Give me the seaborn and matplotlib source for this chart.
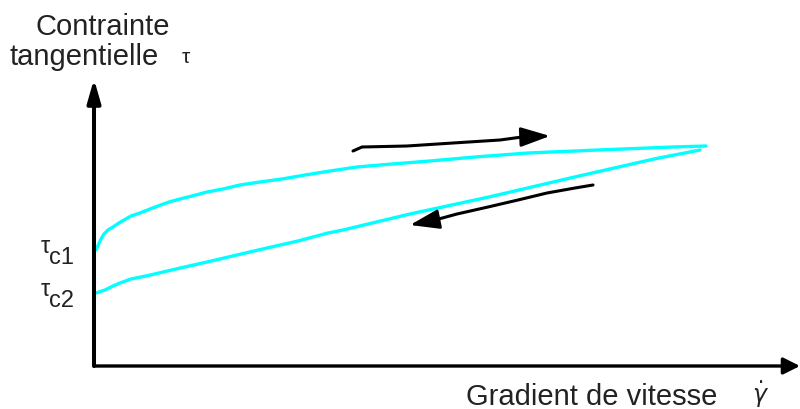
import matplotlib
matplotlib.use("Agg")
import matplotlib.pyplot as plt
import seaborn as sns

# Values (arbitrary units: shear rate / shear stress)
shear_upper = [2, 7, 10, 14, 19, 25, 30, 37, 46, 56, 64, 75, 86, 98, 113, 129, 146,
               166, 188, 211, 236, 263, 298, 336, 381, 434, 504, 579, 612]
stress_upper = [116, 127, 132, 136, 139, 143, 146, 150, 153, 157, 160, 164, 167, 170,
                174, 177, 181, 184, 187, 191, 195, 199, 202, 205, 209, 213, 216, 219, 220]

shear_lower = [2, 11, 19, 26, 37, 52, 82, 113, 143, 173, 204, 234, 249, 316, 395, 485, 560, 606]
stress_lower = [73, 76, 80, 83, 87, 90, 97, 104, 111, 118, 125, 133, 136, 152, 169, 190, 207, 216]

# loading / unloading direction arrows (last point = arrow tip)
load_x = [259, 268, 313, 359, 406, 428, 456]
load_y = [215, 219, 220, 223, 226, 229, 230]
unload_x = [499, 481, 453, 424, 394, 363, 341, 316]
unload_y = [181, 178, 173, 166, 159, 152, 146, 141]

tau_c1 = stress_upper[0]
tau_c2 = stress_lower[0]
tick_labels = ["c1", "c2"]

x_max = 706
y_max = 287

sns.set_theme(style="white")
plt.rcParams['font.family'] = ['Liberation Sans', 'DejaVu Sans']
txt_color = "#222222"


def head(ax, x0, y0, x1, y1, lw, scale, hl, hw, coords="data"):
    ax.annotate("", xy=(x1, y1), xytext=(x0, y0), xycoords=coords, textcoords=coords,
                annotation_clip=False,
                arrowprops=dict(arrowstyle=f"-|>,head_length={hl},head_width={hw}",
                                color="black", lw=lw, mutation_scale=scale,
                                shrinkA=0, shrinkB=0))


fig = plt.figure(figsize=(8, 4.1), dpi=100)
ax = fig.add_axes([94 / 800, 43 / 410, 706 / 800, 287 / 410])
ax.set_xlim(0, x_max)
ax.set_ylim(0, y_max)
sns.despine(ax=ax, left=True, bottom=True)
ax.set_xticks([])
ax.set_yticks([])

# flow curves
sns.lineplot(x=shear_upper, y=stress_upper, color="#00FFFF", lw=2.4, ax=ax,
             sort=False, estimator=None)
sns.lineplot(x=shear_lower, y=stress_lower, color="#00FFFF", lw=2.4, ax=ax,
             sort=False, estimator=None)

# direction arrows
sns.lineplot(x=load_x[:-1], y=load_y[:-1], color="black", lw=2.2, ax=ax,
             sort=False, estimator=None)
head(ax, load_x[-2], load_y[-2], load_x[-1], load_y[-1], 2.0, 10, 1.8, 0.6)
sns.lineplot(x=unload_x[:-1], y=unload_y[:-1], color="black", lw=2.2, ax=ax,
             sort=False, estimator=None)
head(ax, unload_x[-2], unload_y[-2], unload_x[-1], unload_y[-1], 2.0, 10, 1.8, 0.6)

# axes with arrows
head(ax, 0, 0, 0, y_max, 2.9, 10, 1.4, 0.4)
head(ax, 0, 0, x_max, 0, 2.4, 10, 1.0, 0.5)

# tau_c labels
for val, lab in zip([tau_c1, tau_c2], tick_labels):
    ax.annotate(lab, xy=(0, val), xycoords=("axes fraction", "data"),
                xytext=(-14.5, -9.5), textcoords="offset points",
                ha="right", va="baseline", fontsize=17, color=txt_color)
    ax.annotate("τ", xy=(0, val), xycoords=("axes fraction", "data"),
                xytext=(-35, -1.5), textcoords="offset points",
                ha="center", va="baseline", fontsize=17, color=txt_color)

# axis titles
fig.text(103 / 800, 1 - 35 / 410, "Contrainte", ha="center", va="baseline",
         fontsize=21, color=txt_color)
fig.text(10 / 800, 1 - 65 / 410, "tangentielle", ha="left", va="baseline",
         fontsize=21, color=txt_color)
fig.text(182 / 800, 1 - 63 / 410, "τ", ha="left", va="baseline",
         fontsize=15, color=txt_color)
fig.text(466 / 800, 1 - 405 / 410, "Gradient de vitesse", ha="left", va="baseline",
         fontsize=21, color=txt_color)
fig.text(752 / 800, 1 - 403 / 410, r"$\dot{\gamma}$", ha="left", va="baseline",
         fontsize=17, color=txt_color)

fig.savefig("out.png", dpi=100, facecolor="white")
